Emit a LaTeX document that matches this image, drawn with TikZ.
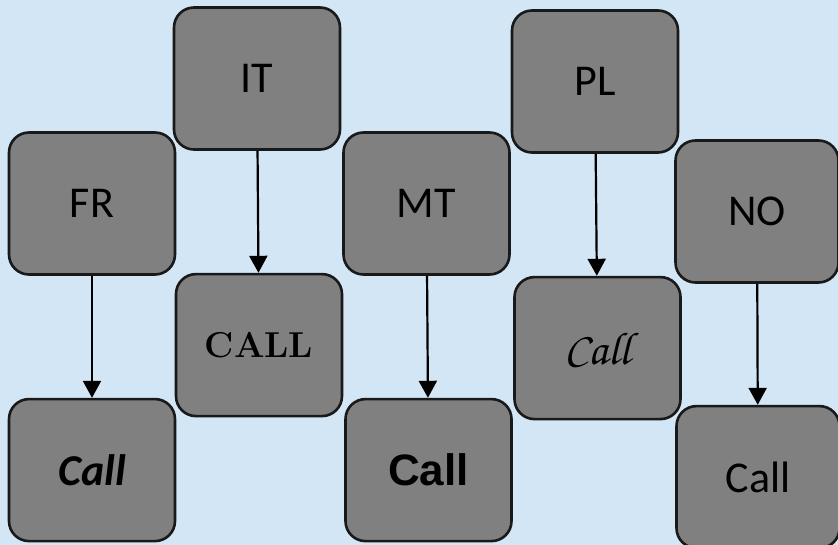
\documentclass[tikz,border=0pt]{standalone}
\usepackage[T1]{fontenc}
\usepackage{fontspec}
\setmainfont{Carlito}
\newfontfamily\arialfont{Liberation Sans}
\newfontfamily\lmfont{Latin Modern Roman}
\newcommand\chancery{\fontencoding{T1}\fontfamily{pzc}\fontseries{m}\fontshape{it}\selectfont}
\usetikzlibrary{positioning,arrows.meta}

\definecolor{bgblue}{RGB}{210,230,245}
\definecolor{boxgray}{RGB}{128,128,128}

\begin{document}
\begin{tikzpicture}[x=1pt, y=-1pt,
    langbox/.style = {shape=rectangle, rounded corners=20pt,
    draw=black!90, line width=2.6pt, fill=boxgray,
    minimum width=166pt, minimum height=142pt, inner sep=0pt,
    font=\fontsize{44}{50}\selectfont},
    line/.style={draw, line width=2.2pt, -{Triangle[length=17pt,width=18pt]}}]

    \fill[bgblue] (0,0) rectangle (838,545);
    \useasboundingbox (0,0) rectangle (838,545);

    % top row of country codes
    \node[langbox] (fr) at (92,203.5) {FR};
    \node[langbox] (it) at (257,78.5) {IT};
    \node[langbox] (mt) at (426.5,203.5) {MT};
    \node[langbox] (pl) at (595,81.5) {PL};
    \node[langbox, minimum width=163pt] (no) at (757,211.5) {NO};

    % one call per code
    \node[langbox, below=122pt of fr] (frcall) {\bfseries\itshape Call};
    \node[langbox, below=122pt of it, xshift=2pt] (itcall) {\lmfont\bfseries\fontsize{36}{42}\selectfont CALL};
    \node[langbox, below=122pt of mt, xshift=2pt] (mtcall) {\arialfont\bfseries Call};
    \node[langbox, below=122pt of pl, xshift=2.5pt] (plcall) {\chancery\fontsize{46}{52}\selectfont Call};
    \node[langbox, minimum width=163pt, below=121pt of no, xshift=1pt] (nocall) {Call};

  \draw [line] (fr) -- (frcall);
  \draw [line] (it) -- (itcall);
  \draw [line] (mt) -- (mtcall);
  \draw [line] (pl) -- (plcall);
  \draw [line] (no) -- (nocall);
  \end{tikzpicture}
\end{document}
